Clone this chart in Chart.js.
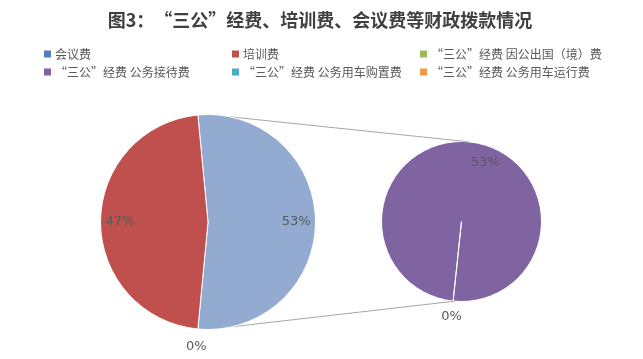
<!DOCTYPE html>
<html><head><meta charset="utf-8">
<script src="https://cdn.jsdelivr.net/npm/chart.js@4"></script>
<style>
html,body{margin:0;padding:0;background:#fff;}
#wrap{position:relative;width:643px;height:359px;background:#fff;}
#wrap canvas{position:absolute;left:0;top:0;}
</style></head><body>
<div id="wrap"><canvas id="rightPie" width="643" height="359"></canvas><canvas id="leftPie" width="643" height="359"></canvas></div>
<script>
// ---- data ----
const titleText = '图3：“三公”经费、培训费、会议费等财政拨款情况';
const categories = ['会议费', '培训费', '“三公”经费 因公出国（境）费', '“三公”经费 公务接待费', '“三公”经费 公务用车购置费', '“三公”经费 公务用车运行费'];
const values = [0, 47, 0, 53, 0, 0];
const colors = ['#4F81BD', '#C0504D', '#9BBB59', '#8064A2', '#4BACC6', '#F79646'];
const otherLabel = '其他';
const otherColor = '#93ABD0';
const mainIndex = [0, 1];          // slices kept in the main pie
const secondIndex = [3, 4, 5, 2];  // slices split into the secondary pie

// ---- derived ----
const grandTotal = values.reduce((a, b) => a + b, 0);
const otherValue = secondIndex.reduce((a, i) => a + values[i], 0);
const leftLabels = [otherLabel].concat(mainIndex.map(i => categories[i]));
const leftData = [otherValue].concat(mainIndex.map(i => values[i]));
const leftColors = [otherColor].concat(mainIndex.map(i => colors[i]));
const rightLabels = secondIndex.map(i => categories[i]);
const rightData = secondIndex.map(i => values[i]);
const rightColors = secondIndex.map(i => colors[i]);
const leftRotation = 90 - (otherValue / grandTotal) * 180;
const rightRotation = 186;

const FONT_CJK = '"Noto Sans CJK SC", "Noto Sans", sans-serif';
const FONT_NUM = '"DejaVu Sans", sans-serif';

function pctLabelsPlugin(opts) {
  return {
    id: 'pctLabels',
    afterDatasetsDraw(chart) {
      const ctx = chart.ctx;
      const meta = chart.getDatasetMeta(0);
      const ds = chart.data.datasets[0];
      ctx.save();
      ctx.font = '13px ' + FONT_NUM;
      ctx.fillStyle = '#595959';
      ctx.textAlign = 'center';
      ctx.textBaseline = 'middle';
      const seen = new Set();
      meta.data.forEach((arc, i) => {
        const v = ds.data[i];
        const p = arc.getProps(['x', 'y', 'startAngle', 'endAngle', 'outerRadius'], true);
        let mid = (p.startAngle + p.endAngle) / 2;
        const k = v === 0 ? opts.outside : opts.inside;
        if (v > 0) mid += (opts.shift || 0) * Math.PI / 180;
        const x = p.x + Math.cos(mid) * p.outerRadius * k;
        const y = p.y + Math.sin(mid) * p.outerRadius * k;
        const key = Math.round(x) + ',' + Math.round(y);
        if (seen.has(key)) return;
        seen.add(key);
        ctx.fillText(Math.round(v / grandTotal * 100) + '%', x, y);
      });
      ctx.restore();
    }
  };
}

const rightChart = new Chart(document.getElementById('rightPie'), {
  type: 'pie',
  data: { labels: rightLabels, datasets: [{ data: rightData, backgroundColor: rightColors, borderColor: '#ffffff', borderWidth: 1 }] },
  options: {
    responsive: false, animation: false, rotation: rightRotation,
    layout: { padding: { left: 381, right: 101, top: 141, bottom: 57 } },
    plugins: { legend: { display: false }, title: { display: false }, tooltip: { enabled: false } }
  },
  plugins: [pctLabelsPlugin({ inside: 0.8, outside: 1.2, shift: 16 })]
});

const connectorPlugin = {
  id: 'connectors',
  beforeDatasetsDraw(chart) {
    const L = chart.getDatasetMeta(0).data[0];
    const R = rightChart.getDatasetMeta(0).data[0];
    if (!L || !R) return;
    const pt = (a, deg) => {
      const t = (deg - 90) * Math.PI / 180;
      return [a.x + Math.cos(t) * a.outerRadius, a.y + Math.sin(t) * a.outerRadius];
    };
    const ctx = chart.ctx;
    ctx.save();
    ctx.strokeStyle = '#A6A6A6';
    ctx.lineWidth = 1;
    [[0, 5], [180, 185]].forEach(([la, ra]) => {
      const p1 = pt(L, la), p2 = pt(R, ra);
      ctx.beginPath();
      ctx.moveTo(p1[0], p1[1]);
      ctx.lineTo(p2[0], p2[1]);
      ctx.stroke();
    });
    ctx.restore();
  }
};

const titleLegendPlugin = {
  id: 'titleLegend',
  afterDraw(chart) {
    const ctx = chart.ctx;
    ctx.save();
    ctx.fillStyle = '#404040';
    ctx.font = 'bold 18px ' + FONT_CJK;
    ctx.textAlign = 'center';
    ctx.textBaseline = 'middle';
    ctx.fillText(titleText, 320, 20);
    const colX = [44, 232, 420];
    const rowY = [54, 72];
    ctx.font = '12px ' + FONT_CJK;
    ctx.textAlign = 'left';
    categories.forEach((c, i) => {
      const x = colX[i % 3], y = rowY[Math.floor(i / 3)];
      ctx.fillStyle = colors[i];
      ctx.fillRect(x, y - 3.5, 7, 7);
      ctx.fillStyle = '#595959';
      ctx.fillText(c, x + 11, y);
    });
    ctx.restore();
  }
};

const leftChart = new Chart(document.getElementById('leftPie'), {
  type: 'pie',
  data: { labels: leftLabels, datasets: [{ data: leftData, backgroundColor: leftColors, borderColor: '#ffffff', borderWidth: 1 }] },
  options: {
    responsive: false, animation: false, rotation: leftRotation,
    layout: { padding: { left: 100, right: 327, top: 114, bottom: 29 } },
    plugins: { legend: { display: false }, title: { display: false }, tooltip: { enabled: false } }
  },
  plugins: [connectorPlugin, pctLabelsPlugin({ inside: 0.82, outside: 1.16, shift: 0 }), titleLegendPlugin]
});
</script>
</body></html>
